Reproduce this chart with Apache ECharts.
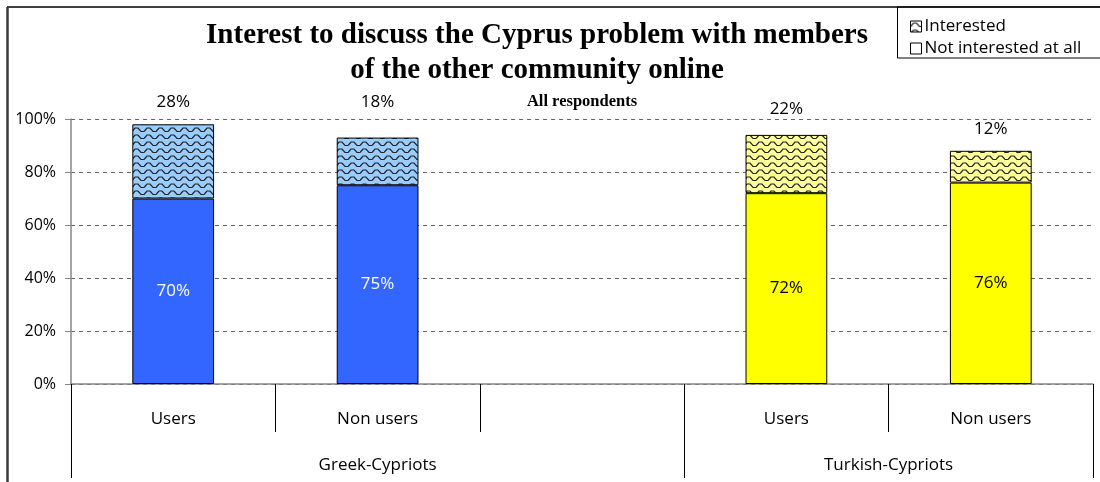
<!DOCTYPE html>
<html>
<head>
<meta charset="utf-8">
<script src="https://cdn.jsdelivr.net/npm/echarts@6/dist/echarts.min.js"></script>
<style>html,body{margin:0;padding:0;background:#fff;}#c{width:1100px;height:482px;}</style>
</head>
<body>
<div id="c"></div>
<script>
const categories = ['Users', 'Non users', '', 'Users', 'Non users'];
const groupLabels = ['Greek-Cypriots', 'Turkish-Cypriots'];
const groupSpans = [3, 2];
const notInterested = [70, 75, null, 72, 76];
const interested = [28, 18, null, 22, 12];

const solidColors = ['#3366FF', '#3366FF', null, '#FFFF00', '#FFFF00'];
const lightColors = ['#99CCFF', '#99CCFF', null, '#FFFF99', '#FFFF99'];
const insideLabelColors = ['#ffffff', '#ffffff', null, '#000000', '#000000'];
const topLabelDistance = [14, 27, 0, 17, 13];

function zigzag(bg) {
  const c = document.createElement('canvas');
  c.width = 12; c.height = 7;
  const g = c.getContext('2d');
  g.fillStyle = bg; g.fillRect(0, 0, 12, 7);
  g.strokeStyle = '#222222'; g.lineWidth = 1.2;
  g.beginPath();
  g.moveTo(0, 5.5); g.lineTo(3, 2); g.lineTo(6, 2); g.lineTo(9, 5.5); g.lineTo(12, 5.5);
  g.stroke();
  return { image: c, repeat: 'repeat' };
}

const font = 'Open Sans';
const axisGray = '#868686';

const bottomData = notInterested.map((v, i) => v == null ? '-' : ({
  value: v,
  itemStyle: { color: solidColors[i] },
  label: { color: insideLabelColors[i] }
}));
const topData = interested.map((v, i) => v == null ? '-' : ({
  value: v,
  itemStyle: { color: zigzag(lightColors[i]) },
  label: { distance: topLabelDistance[i] }
}));

// second-level axis: half-category slots
const total = groupSpans.reduce((a, b) => a + b, 0);
const halfSlots = [];
for (let i = 0; i <= total * 2; i++) halfSlots.push('');
const groupTickIdx = [0];
const groupLabelIdx = {};
let acc = 0;
groupSpans.forEach((s, gi) => {
  groupLabelIdx[acc * 2 + s] = groupLabels[gi];
  acc += s;
  groupTickIdx.push(acc * 2);
});
Object.keys(groupLabelIdx).forEach(k => { halfSlots[k] = groupLabelIdx[k]; });

const chart = echarts.init(document.getElementById('c'), null, { renderer: 'canvas' });
chart.setOption({
  animation: false,
  backgroundColor: '#ffffff',
  title: [{
    text: 'Interest to discuss the Cyprus problem with members\nof the other community online',
    left: 532, top: 13, textAlign: 'center',
    textStyle: { fontFamily: 'Liberation Serif', fontWeight: 'bold', fontSize: 29, lineHeight: 35, color: '#000' }
  }, {
    text: 'All respondents',
    left: 577, top: 88, textAlign: 'center',
    textStyle: { fontFamily: 'Liberation Serif', fontWeight: 'bold', fontSize: 16.5, color: '#000' }
  }],
  legend: {
    orient: 'vertical', left: 905, top: 13, itemGap: 5, itemWidth: 11, itemHeight: 11,
    icon: 'rect',
    textStyle: { fontFamily: font, fontSize: 17, color: '#000', padding: [0, 0, 0, -2] },
    data: [
      { name: 'Interested', itemStyle: { color: zigzag('#ffffff'), borderColor: '#000', borderWidth: 1 } },
      { name: 'Not interested at all', itemStyle: { color: '#ffffff', borderColor: '#000', borderWidth: 1 } }
    ]
  },
  graphic: [
    { type: 'line', shape: { x1: 7, y1: 7, x2: 1100, y2: 7 }, style: { stroke: '#000', lineWidth: 1.5 }, silent: true },
    { type: 'line', shape: { x1: 7.5, y1: 7, x2: 7.5, y2: 482 }, style: { stroke: '#3a3a3a', lineWidth: 2.5 }, silent: true },
    { type: 'rect', shape: { x: 897.5, y: 7, width: 300, height: 51 }, style: { fill: null, stroke: '#000', lineWidth: 1 }, silent: true }
  ],
  grid: { left: 71, right: 7, top: 119, bottom: 98, containLabel: false },
  xAxis: [{
    type: 'category', data: categories, position: 'bottom',
    axisLine: { lineStyle: { color: axisGray, width: 1.5 } },
    axisTick: { show: true, interval: 0, length: 48, lineStyle: { color: '#000', width: 1 } },
    axisLabel: { interval: 0, margin: 27, fontFamily: font, fontSize: 17, color: '#000' }
  }, {
    type: 'category', data: halfSlots, position: 'bottom', offset: 48, boundaryGap: false,
    axisLine: { show: false },
    axisTick: { show: true, length: 46, interval: (idx) => groupTickIdx.indexOf(idx) >= 0, lineStyle: { color: '#000', width: 1 } },
    axisLabel: { interval: (idx) => groupLabelIdx[idx] !== undefined, margin: 25, fontFamily: font, fontSize: 17, color: '#000' }
  }],
  yAxis: {
    type: 'value', min: 0, max: 100, interval: 20,
    axisLine: { show: true, lineStyle: { color: axisGray, width: 1.5 } },
    axisTick: { show: true, length: 6, lineStyle: { color: axisGray } },
    axisLabel: { formatter: '{value}%', fontFamily: font, fontSize: 16, color: '#000', margin: 15 },
    splitLine: { show: true, lineStyle: { color: '#666666', type: [4, 4], width: 1 } }
  },
  series: [{
    name: 'Not interested at all', type: 'bar', stack: 'total', barWidth: '40%', xAxisIndex: 0,
    data: bottomData,
    itemStyle: { borderColor: '#000', borderWidth: 1 },
    label: { show: true, position: 'inside', formatter: '{c}%', fontFamily: font, fontSize: 17 }
  }, {
    name: 'Interested', type: 'bar', stack: 'total', barWidth: '40%', xAxisIndex: 0,
    data: topData,
    itemStyle: { borderColor: '#000', borderWidth: 1 },
    label: { show: true, position: 'top', formatter: '{c}%', fontFamily: font, fontSize: 17, color: '#000' }
  }]
});
</script>
</body>
</html>
